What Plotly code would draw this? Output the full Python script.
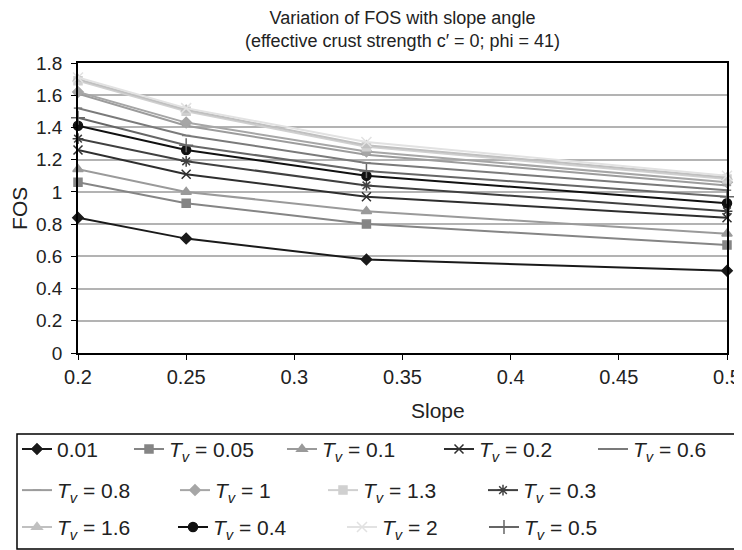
import plotly.graph_objects as go

slope = [0.2, 0.25, 1 / 3, 0.5]

tv_labels = ["0.01", "0.05", "0.1", "0.2", "0.6", "0.8", "1", "1.3", "0.3", "1.6", "0.4", "2", "0.5"]

fos_001 = [0.84, 0.71, 0.58, 0.51]
fos_005 = [1.06, 0.93, 0.80, 0.67]
fos_01 = [1.14, 1.00, 0.88, 0.74]
fos_02 = [1.26, 1.11, 0.97, 0.84]
fos_06 = [1.52, 1.35, 1.18, 1.01]
fos_08 = [1.61, 1.41, 1.23, 1.04]
fos_1 = [1.62, 1.43, 1.25, 1.06]
fos_13 = [1.69, 1.50, 1.28, 1.08]
fos_03 = [1.33, 1.19, 1.04, 0.88]
fos_16 = [1.70, 1.51, 1.29, 1.09]
fos_04 = [1.41, 1.26, 1.10, 0.93]
fos_2 = [1.71, 1.52, 1.31, 1.10]
fos_05 = [1.46, 1.29, 1.13, 0.97]

series = [fos_001, fos_005, fos_01, fos_02, fos_06, fos_08, fos_1,
          fos_13, fos_03, fos_16, fos_04, fos_2, fos_05]

# (colour, symbol, size, legend row, legend entry width)
styles = [
    ("#1a1a1a", "diamond", 8, "legend", 67),
    ("#858585", "square", 8, "legend", 108),
    ("#9a9a9a", "triangle-up", 9, "legend", 112),
    ("#2e2e2e", "x-thin", 9, "legend", 109),
    ("#7a7a7a", "line-ew", 6, "legend", 72),
    ("#9c9c9c", "line-ew", 6, "legend2", 113),
    ("#a6a6a6", "diamond", 8, "legend2", 103),
    ("#d0d0d0", "square", 8, "legend2", 115),
    ("#404040", "asterisk", 9, "legend2", 75),
    ("#c0c0c0", "triangle-up", 9, "legend3", 111),
    ("#111111", "circle", 9, "legend3", 124),
    ("#e2e2e2", "x-thin", 10, "legend3", 97),
    ("#666666", "cross-thin", 10, "legend3", 75),
]

fig = go.Figure()

for lab, ys, (col, sym, sz, leg, lw) in zip(tv_labels, series, styles):
    name = lab if lab == "0.01" else "<i>T<sub>v</sub></i> = " + lab
    fig.add_trace(go.Scatter(
        x=slope,
        y=ys,
        name=name,
        legend=leg,
        legendwidth=lw,
        mode="lines+markers",
        line=dict(color=col, width=2),
        marker=dict(symbol=sym, size=sz, color=col, line=dict(color=col, width=1.5)),
        cliponaxis=False
    ))

fig.update_xaxes(
    range=[0.2, 0.5], dtick=0.05, tickfont=dict(size=20),
    showgrid=False, showline=True, linecolor="black", linewidth=1.5, mirror=True,
    ticks="outside", ticklen=5, tickcolor="black", zeroline=False,
    ticklabelstandoff=0
)
fig.update_yaxes(
    range=[0, 1.8], dtick=0.2, tickfont=dict(size=19),
    showgrid=True, gridcolor="#b3b3b3", gridwidth=1.5,
    showline=True, linecolor="black", linewidth=1.5, mirror=True,
    ticks="outside", ticklen=5, tickcolor="black", zeroline=False,
    ticklabelstandoff=5
)

leg_common = dict(orientation="h", xanchor="left", yanchor="middle",
                  borderwidth=0, bgcolor="rgba(0,0,0,0)", font=dict(size=21))

# page body has an 8px margin, so the figure is 8px smaller each way
fig.update_layout(
    width=734, height=542,
    margin=dict(l=70, r=15, t=55, b=197, autoexpand=False),
    plot_bgcolor="white", paper_bgcolor="white",
    font=dict(family="Liberation Sans, Arial, sans-serif", size=21, color="#222222"),
    title=dict(
        text="Variation of FOS with slope angle<br>(effective crust strength c\u2032 = 0; phi = 41)",
        x=0.5, xref="paper", xanchor="center",
        y=0.9705, yref="container", yanchor="middle",
        font=dict(size=18)
    ),
    legend=dict(x=-0.094, y=-0.332, **leg_common),
    legend2=dict(x=-0.094, y=-0.474, **leg_common),
    legend3=dict(x=-0.094, y=-0.601, **leg_common),
    shapes=[dict(type="rect", xref="paper", yref="paper",
                 x0=-0.094, x1=1.02, y0=-0.279, y1=-0.676,
                 line=dict(color="black", width=1.5))],
    annotations=[
        dict(text="Slope", xref="paper", yref="paper", x=0.555, y=-0.197,
             showarrow=False, xanchor="center", yanchor="middle"),
        dict(text="FOS", xref="paper", yref="paper", x=-0.091, y=0.5,
             textangle=-90, showarrow=False, xanchor="center", yanchor="middle"),
    ]
)

fig.write_html("out.html")
